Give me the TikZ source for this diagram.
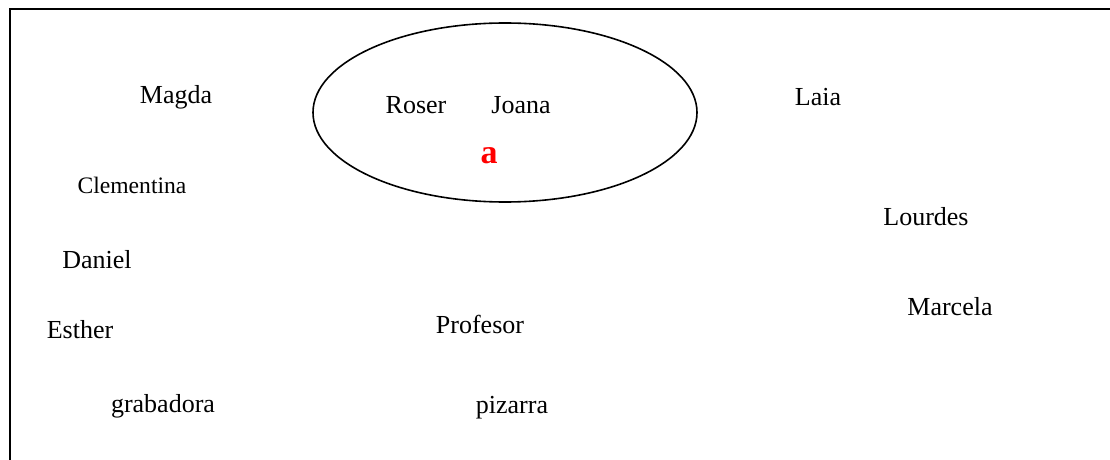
\documentclass[tikz,border=0pt]{standalone}
\usepackage{fontspec}
\setmainfont{Liberation Serif}
\usetikzlibrary{shapes.geometric}
\begin{document}
\begin{tikzpicture}[x=0.5pt,y=-0.5pt,
  person/.style={inner sep=0pt,font=\fontsize{13}{15}\selectfont},
  smallperson/.style={inner sep=0pt,font=\fontsize{11.8}{14}\selectfont},
  groupring/.style={draw,ellipse,line width=0.8pt,inner sep=0pt,minimum width=192pt,minimum height=89.5pt}]
\useasboundingbox (0,0) rectangle (1110,460);
% outer frame (left and top edges)
\draw[line width=1pt] (10,470) -- (10,9) -- (1120,9);
% the group
\node[groupring] (grp) at (505,112.5) {};
\node[person] (roser) at (416,105) {Roser};
\node[person] (joana) at (521,105) {Joana};
\node[inner sep=0pt,text=red,font=\fontsize{17}{20}\selectfont\bfseries] (lbl) at (489,156) {a};
% people and objects around the room
\node[person] (magda) at (176,97) {Magda};
\node[person] (laia) at (818,97) {Laia};
\node[smallperson] (clem) at (132,185) {Clementina};
\node[person] (lourdes) at (926,217) {Lourdes};
\node[person] (daniel) at (97,260) {Daniel};
\node[person] (esther) at (80,330) {Esther};
\node[person] (prof) at (480,324) {Profesor};
\node[person] (marcela) at (950,307) {Marcela};
\node[person] (grab) at (163,406) {grabadora};
\node[person] (piz) at (512,408) {pizarra};
\end{tikzpicture}
\end{document}
